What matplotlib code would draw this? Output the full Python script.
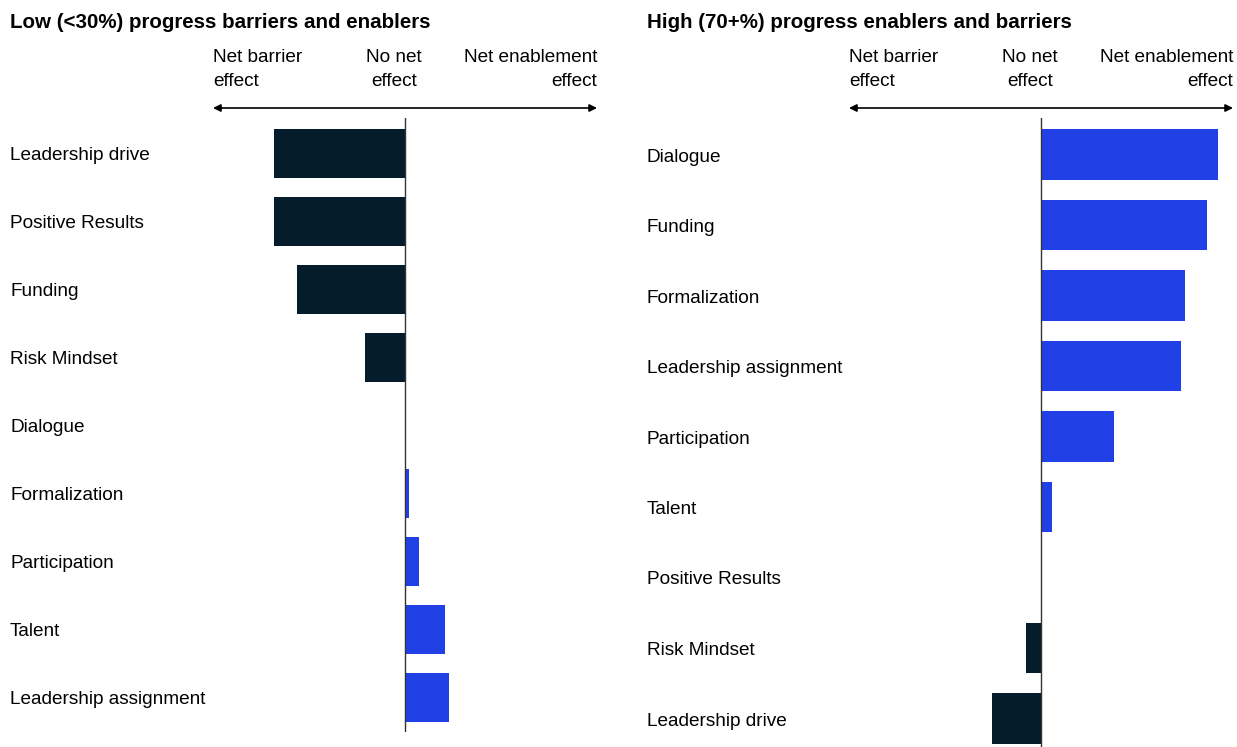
import matplotlib
matplotlib.use("Agg")
import matplotlib.pyplot as plt
from matplotlib.patches import FancyArrowPatch

plt.rcParams['font.family'] = ['Liberation Sans', 'DejaVu Sans']

NAVY = "#051C2C"
BLUE = "#2140E6"

# Data (net effect score; negative = net barrier, positive = net enabler)
low_title = "Low (<30%) progress barriers and enablers"
low_categories = ["Leadership drive", "Positive Results", "Funding", "Risk Mindset",
                  "Dialogue", "Formalization", "Participation", "Talent",
                  "Leadership assignment"]
low_values = [-68, -68, -56, -21, 0, 2, 7.5, 21, 23]

high_title = "High (70+%) progress enablers and barriers"
high_categories = ["Dialogue", "Funding", "Formalization", "Leadership assignment",
                   "Participation", "Talent", "Positive Results", "Risk Mindset",
                   "Leadership drive"]
high_values = [92, 86.5, 75, 73, 38, 5.7, 0, -8, -25.5]

header_left = ["Net barrier", "effect"]
header_mid = ["No net", "effect"]
header_right = ["Net enablement", "effect"]

W, H = 1237, 747
fig = plt.figure(figsize=(W / 100, H / 100), dpi=100)
fig.patch.set_facecolor("white")


def fx(x):
    return x / W


def fy(y):
    return 1 - y / H


def panel(title, cats, vals, x0, x1, mid_x, label_x, top, bottom, c0, spacing, fs=13.7):
    n = len(cats)
    ax = fig.add_axes([fx(x0), fy(bottom), (x1 - x0) / W, (bottom - top) / H])
    ax.set_xlim(-100, 100)
    ytop = -(c0 - top) / spacing
    ybot = (n - 1) + (bottom - (c0 + (n - 1) * spacing)) / spacing
    ax.set_ylim(ybot, ytop)
    colors = [BLUE if v > 0 else NAVY for v in vals]
    ax.barh(range(n), vals, height=0.72, color=colors, linewidth=0)
    ax.axvline(0, color="#333333", lw=1.0, zorder=3)
    ax.axis("off")
    for i, c in enumerate(cats):
        y = c0 + i * spacing + 2.5
        fig.text(fx(label_x), fy(y), c, ha="left", va="center", fontsize=fs, color="black")
    fig.text(fx(label_x), fy(23), title, ha="left", va="center", fontsize=14.8,
             fontweight="bold", color="black")
    for j, (a, b, m) in enumerate(zip(header_left, header_mid, header_right)):
        yy = 57.5 + j * 23.5
        fig.text(fx(x0), fy(yy), a, ha="left", va="center", fontsize=fs)
        fig.text(fx(mid_x), fy(yy), b, ha="center", va="center", fontsize=fs)
        fig.text(fx(x1), fy(yy), m, ha="right", va="center", fontsize=fs)
    arr = FancyArrowPatch((fx(x0), fy(108)), (fx(x1), fy(108)), transform=fig.transFigure,
                          arrowstyle="<|-|>", mutation_scale=11, lw=1.2, color="black",
                          shrinkA=0, shrinkB=0)
    fig.add_artist(arr)
    return ax


panel(low_title, low_categories, low_values, 213, 597, 394, 10, 118, 732, 153.5, 68.0)
panel(high_title, high_categories, high_values, 849, 1233, 1030, 647, 118, 747, 154.5, 70.5)

fig.savefig("out.png", dpi=100, facecolor="white")
